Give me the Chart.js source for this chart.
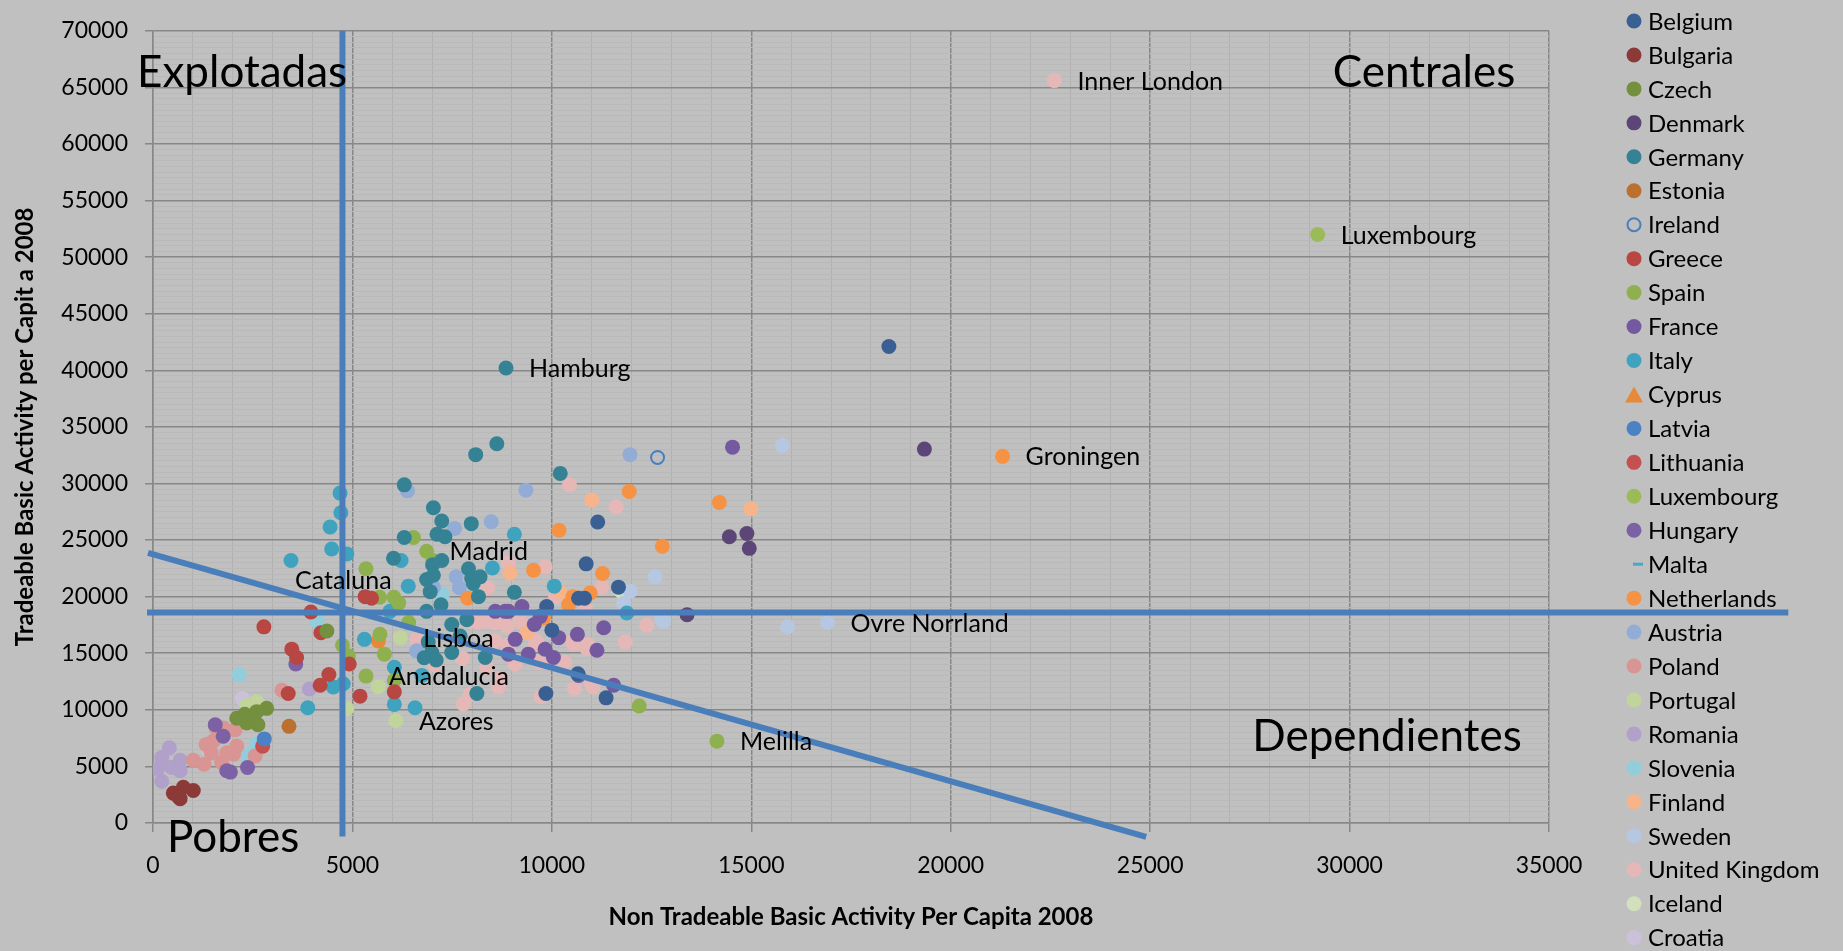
<!DOCTYPE html>
<html>
<head>
<meta charset="utf-8">
<script src="https://cdn.jsdelivr.net/npm/chart.js@4.4.1/dist/chart.umd.min.js"></script>
<style>
  html, body { margin: 0; padding: 0; background: #c0c0c0; }
  canvas { display: block; }
</style>
</head>
<body>
<canvas id="chart" width="1843" height="951"></canvas>
<script>
// region points per country: [non tradeable, tradeable] per capita 2008
var belgium = [[18450,42100],[11150,26600],[10860,22900],[11670,20840],[10670,19860],[9870,19130],[10000,17040],[10650,13180],[11360,11060],[9850,11440],[10820,19860]];
var bulgaria = [[510,2640],[680,2150],[1010,2870],[760,3160],[620,2400]];
var czech = [[2600,9840],[2850,10130],[2350,8830],[2630,8680],[2100,9260],[2480,9410],[2300,9600],[4360,16960]];
var denmark = [[19340,33040],[14450,25290],[14890,25580],[14950,24270],[13390,18410]];
var germany = [[8850,40200],[8620,33510],[8090,32550],[10210,30890],[6300,29880],[7030,27850],[7240,26680],[7980,26450],[6300,25230],[7120,25520],[7320,25290],[6030,23400],[7240,23200],[7010,22820],[7910,22470],[6860,21510],[7030,21890],[7990,21600],[8200,21750],[8030,21170],[9060,20380],[6950,20440],[8160,20000],[6860,18700],[7220,19280],[7490,17540],[7870,17970],[6990,15070],[7490,15070],[7700,16520],[8330,14630],[8120,11440],[6800,14600],[7100,14400],[6900,16000]];
var estonia = [[3410,8540]];
var ireland = [[12650,32300]];
var greece = [[2780,17330],[3960,18640],[4210,16810],[3480,15360],[3600,14630],[4410,13120],[4190,12170],[5190,11210],[3390,11440],[5320,20000],[5480,19860],[4920,14050],[6050,11590]];
var spain = [[5340,22470],[6530,25230],[6860,24010],[7020,23200],[5680,19950],[6040,19950],[6160,19450],[6410,17710],[5690,16670],[5800,14920],[5340,12980],[6050,12600],[4750,15710],[4900,14780],[12190,10340],[14140,7230]];
var france = [[14530,33210],[9250,19130],[8910,18700],[8830,18700],[9710,18260],[10170,16380],[10640,16670],[11300,17250],[11130,15270],[9830,15350],[10040,14630],[11550,12170],[10670,13040],[9560,17540],[9080,16230],[8910,14920],[9410,14920],[8580,18700]];
var italy = [[4690,29150],[4710,27410],[4440,26160],[4480,24210],[4860,23780],[3460,23200],[6220,23200],[8510,22530],[9060,25520],[6400,20930],[10060,20930],[11880,18550],[5940,18700],[5300,16230],[6050,13760],[6740,13040],[6050,10480],[6570,10190],[4520,12020],[4770,12310],[3880,10190]];
var cyprus = [[5650,16090]];
var latvia = [[2790,7430]];
var lithuania = [[2750,6790]];
var luxembourg = [[29200,52000]];
var hungary = [[1560,8680],[1760,7660],[1850,4620],[1940,4500],[2370,4900],[3580,14050]];
var malta = [];
var netherlands = [[21300,32400],[14200,28330],[11940,29290],[10180,25870],[12770,24450],[9540,22330],[11270,22040],[10960,20320],[10530,20000],[10420,19280],[9790,18120],[7890,19860]];
var austria = [[11960,32550],[6380,29350],[9350,29410],[7560,26020],[8480,26620],[7600,21750],[7680,20790],[7030,20840],[6610,15210]];
var poland = [[1010,5550],[1280,5200],[1330,6940],[1510,7230],[1580,8390],[1760,8390],[2060,8250],[2100,6790],[1850,6210],[2020,6070],[1720,5340],[2560,5920],[3230,11730],[1460,6210]];
var portugal = [[2600,10710],[2350,10400],[5650,12050],[4860,10100],[6090,9030],[6200,16380]];
var romania = [[410,6650],[220,5780],[680,5550],[120,4820],[470,4900],[680,4620],[220,3690],[3920,11840]];
var slovenia = [[2160,13090],[2180,9200],[2600,7000],[2370,5980],[4110,17800],[7260,20230]];
var finland = [[14990,27760],[11000,28540],[8950,22090],[10210,20380],[9370,16810]];
var sweden = [[15780,33360],[16910,17700],[15910,17330],[12590,21750],[11960,20470],[11800,19420],[12760,17970],[12800,17830]];
var unitedKingdom = [[22600,65600],[10440,29880],[11610,27930],[8910,22970],[9830,22620],[8390,20790],[11250,20840],[10110,20000],[10840,18990],[12380,17480],[11840,16000],[10900,15790],[10530,16080],[10320,14200],[9690,14200],[9610,16080],[8890,15710],[8580,16080],[8330,17830],[8140,17740],[7950,17830],[8580,17680],[8870,17390],[9200,17830],[9730,11150],[10570,11880],[10990,12310],[9080,14050],[8720,12750],[8660,12020],[8370,13760],[7950,11350],[7780,10510],[7760,14550],[7070,13970],[6610,16230],[9580,15790],[10540,15790],[10880,15410],[11030,12020],[10090,20000]];
var iceland = [[11750,20440]];
var croatia = [[1410,6300],[2240,11000]];

var countries = ['Belgium','Bulgaria','Czech','Denmark','Germany','Estonia','Ireland','Greece','Spain','France','Italy','Cyprus','Latvia','Lithuania','Luxembourg','Hungary','Malta','Netherlands','Austria','Poland','Portugal','Romania','Slovenia','Finland','Sweden','United Kingdom','Iceland','Croatia'];
var countryPoints = [belgium, bulgaria, czech, denmark, germany, estonia, ireland, greece, spain, france, italy, cyprus, latvia, lithuania, luxembourg, hungary, malta, netherlands, austria, poland, portugal, romania, slovenia, finland, sweden, unitedKingdom, iceland, croatia];
var countryColors = ['#3a6093','#8c3a38','#74903f','#5b4677','#358294','#bb7030','#4a7ebb','#b84744','#8fb04e','#7459a0','#3fa2be','#e8893a','#4c82c4','#c4504f','#9bbb59','#7c62a5','#46a9c9','#f59243','#93acd6','#d89593','#c1d49b','#b1a0c9','#92cddc','#f7b48a','#b6c8e1','#e5b8b7','#d2e0bb','#cbc1da'];

// dividing lines of the quadrants
var verticalLine = [[4750,-1200],[4750,70000]];
var horizontalLine = [[-150,18600],[41000,18600]];
var diagonalLine = [[-125,23870],[24900,-1220]];

// named regions
var regionLabels = ['Inner London','Luxembourg','Hamburg','Groningen','Madrid','Lisboa','Anadalucia','Azores','Ovre Norrland','Melilla'];
var regionPoints = [[22600,65600],[29200,52000],[8850,40200],[21300,32400],[6860,24010],[6200,16380],[5340,12980],[6090,9030],[16910,17700],[14140,7230]];

var quadrantLabels = ['Explotadas','Centrales','Dependientes','Pobres'];

var xTicks = [0,5000,10000,15000,20000,25000,30000,35000];
var yTicks = [0,5000,10000,15000,20000,25000,30000,35000,40000,45000,50000,55000,60000,65000,70000];

var FONT = 'Lato, "Open Sans", sans-serif';
Chart.defaults.font.family = FONT;
Chart.defaults.color = '#000';

function toXY(arr) {
	return arr.map(function(p) { return {x: p[0], y: p[1]}; });
}

var datasets = [];
var lines = [verticalLine, horizontalLine, diagonalLine];
for (var l in lines) {
	datasets.push({
		label: 'line' + l,
		data: toXY(lines[l]),
		showLine: true,
		borderColor: '#4a7ebb',
		borderWidth: 6,
		pointRadius: 0,
		fill: false,
		clip: false,
		order: 0
	});
}
for (var c in countries) {
	var isIreland = countries[c] === 'Ireland';
	datasets.push({
		label: countries[c],
		data: toXY(countryPoints[c]),
		backgroundColor: isIreland ? 'rgba(0,0,0,0)' : countryColors[c],
		borderColor: countryColors[c],
		borderWidth: isIreland ? 2 : 0,
		pointRadius: isIreland ? 6.5 : 7.5,
		pointStyle: countries[c] === 'Malta' ? 'line' : 'circle',
		order: 1
	});
}

var isMajor = function(v) { return v % 5000 === 0; };

var overlay = {
	id: 'overlay',
	beforeDraw: function(chart) {
		var ctx = chart.ctx;
		ctx.save();
		ctx.fillStyle = '#c0c0c0';
		ctx.fillRect(0, 0, chart.width, chart.height);
		ctx.restore();
	},
	afterDatasetsDraw: function(chart) {
		var ctx = chart.ctx, xs = chart.scales.x, ys = chart.scales.y;
		ctx.save();
		ctx.fillStyle = '#000';
		ctx.textBaseline = 'middle';
		ctx.textAlign = 'left';
		ctx.font = '25px ' + FONT;
		for (var i in regionLabels) {
			ctx.fillText(regionLabels[i], xs.getPixelForValue(regionPoints[i][0]) + 23, ys.getPixelForValue(regionPoints[i][1]) + 1);
		}
		// Cataluna label sits apart from its point
		ctx.fillText('Cataluna', xs.getPixelForValue(3560), ys.getPixelForValue(21430));

		ctx.textBaseline = 'alphabetic';
		ctx.font = '44px ' + FONT;
		var qPos = [[-400,65060],[29580,65060],[27560,6360],[350,-2530]];
		for (var q in quadrantLabels) {
			ctx.fillText(quadrantLabels[q], xs.getPixelForValue(qPos[q][0]), ys.getPixelForValue(qPos[q][1]));
		}
		ctx.restore();
	},
	afterDraw: function(chart) {
		var ctx = chart.ctx;
		ctx.save();
		ctx.font = '24px ' + FONT;
		ctx.textBaseline = 'middle';
		ctx.textAlign = 'left';
		for (var i in countries) {
			var y = 21 + i * 33.95, x = 1634;
			ctx.fillStyle = countryColors[i];
			ctx.strokeStyle = countryColors[i];
			if (countries[i] === 'Ireland') {
				ctx.lineWidth = 2;
				ctx.beginPath(); ctx.arc(x, y, 6.5, 0, Math.PI * 2); ctx.stroke();
			} else if (countries[i] === 'Cyprus') {
				ctx.beginPath(); ctx.moveTo(x, y - 8); ctx.lineTo(x + 9, y + 8); ctx.lineTo(x - 9, y + 8); ctx.closePath(); ctx.fill();
			} else if (countries[i] === 'Malta') {
				ctx.fillRect(x - 1, y - 1.5, 10, 3);
			} else {
				ctx.beginPath(); ctx.arc(x, y, 7.5, 0, Math.PI * 2); ctx.fill();
			}
			ctx.fillStyle = '#000';
			ctx.fillText(countries[i], 1648, y + 1);
		}
		ctx.restore();
	}
};

var chart = new Chart(document.getElementById('chart'), {
	type: 'scatter',
	data: { datasets: datasets },
	plugins: [overlay],
	options: {
		responsive: false,
		animation: false,
		layout: { padding: { top: 19, right: 294, bottom: 0, left: 0 } },
		plugins: {
			legend: { display: false },
			tooltip: { enabled: false }
		},
		scales: {
			x: {
				type: 'linear',
				min: 0, max: 35000,
				afterFit: function(scale) { scale.height = 128; },
				ticks: {
					stepSize: 1000, autoSkip: false, maxTicksLimit: 1000, maxRotation: 0,
					padding: 20,
					font: { size: 23 },
					callback: function(v) { return xTicks.indexOf(v) >= 0 ? String(v) : ''; }
				},
				grid: {
					color: function(c) { return isMajor(c.tick.value) ? '#878787' : '#b1b1b1'; },
					lineWidth: function(c) { return isMajor(c.tick.value) ? 1.5 : 1; },
					tickColor: function(c) { return isMajor(c.tick.value) ? '#878787' : 'rgba(0,0,0,0)'; },
					tickLength: 9
				},
				border: { color: '#878787', width: 1.5 },
				title: {
					display: true,
					text: 'Non Tradeable Basic Activity Per Capita 2008',
					font: { size: 24, weight: 'bold', lineHeight: 1.2 },
					padding: { top: 0, bottom: 19 }
				}
			},
			y: {
				type: 'linear',
				min: 0, max: 70000,
				afterFit: function(scale) { scale.width = 153; },
				ticks: {
					stepSize: 500, autoSkip: false, maxTicksLimit: 1000,
					padding: 17,
					font: { size: 23 },
					callback: function(v) { return yTicks.indexOf(v) >= 0 ? String(v) : ''; }
				},
				grid: {
					color: function(c) { return isMajor(c.tick.value) ? '#878787' : '#b9b9b9'; },
					lineWidth: function(c) { return isMajor(c.tick.value) ? 1.5 : 1; },
					tickColor: function(c) { return isMajor(c.tick.value) ? '#878787' : 'rgba(0,0,0,0)'; },
					tickLength: 8
				},
				border: { color: '#878787', width: 1.5 },
				title: {
					display: true,
					text: 'Tradeable Basic Activity per Capit a 2008',
					font: { size: 24, weight: 'bold', lineHeight: 1.2 },
					padding: { top: 11, bottom: 0 }
				}
			}
		}
	}
});
</script>
</body>
</html>
